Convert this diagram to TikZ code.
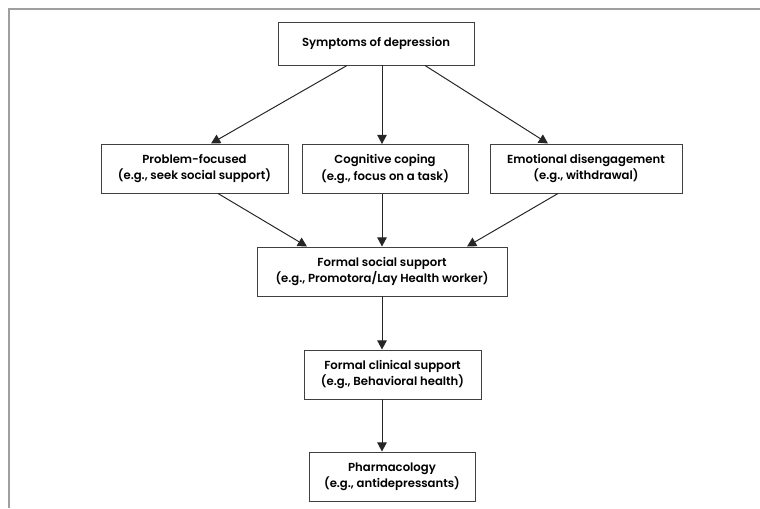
\documentclass[tikz,border=0pt]{standalone}
\usepackage{fontspec}
\setmainfont{Poppins}[BoldFont={Poppins SemiBold}]
\usetikzlibrary{arrows.meta}

\begin{document}
\begin{tikzpicture}[
    box/.style={draw=black!75, line width=0.7pt, align=center, inner sep=0pt,
        minimum height=1.225cm, font=\fontsize{8.3}{11.6}\selectfont\bfseries},
    freccia/.style={-{Triangle[length=2.3mm, width=2.4mm]}, line width=0.7pt, black!85}
    ]
    % Area e cornice
    \useasboundingbox (0,0) rectangle (19,-12.7);
    \draw[gray!75, line width=1pt] (0.225,-12.7) -- (0.225,-0.225) -- (19,-0.225);

    % Nodi
    \node[box, minimum width=4.9cm, minimum height=1.075cm] (sintomi) at (9.4,-1.0875) {Symptoms of depression};
    \node[box, minimum width=4.675cm] (problema) at (4.8625,-4.2125) {Problem-focused\\(e.g., seek social support)};
    \node[box, minimum width=4.15cm] (cognitivo) at (9.625,-4.225) {Cognitive coping\\(e.g., focus on a task)};
    \node[box, minimum width=4.8cm] (emotivo) at (14.65,-4.2125) {Emotional disengagement\\(e.g., withdrawal)};
    \node[box, minimum width=6.25cm] (sociale) at (9.55,-6.7875) {Formal social support\\(e.g., Promotora/Lay Health worker)};
    \node[box, minimum width=4.425cm] (clinico) at (9.8125,-9.3625) {Formal clinical support\\(e.g., Behavioral health)};
    \node[box, minimum width=4.15cm] (farmaci) at (9.8,-11.9125) {Pharmacology\\(e.g., antidepressants)};

    % Frecce dal primo livello
    \draw[freccia] ([xshift=-0.725cm]sintomi.south) -- ([xshift=0.4125cm]problema.north);
    \draw[freccia] ([xshift=0.15cm]sintomi.south) -- ([xshift=0.15cm]sintomi.south |- cognitivo.north);
    \draw[freccia] ([xshift=1.225cm]sintomi.south) -- ([xshift=-0.95cm]emotivo.north);

    % Frecce verso il supporto sociale
    \draw[freccia] ([xshift=0.5875cm]problema.south) -- ([xshift=-1.875cm]sociale.north);
    \draw[freccia] ([xshift=-0.075cm]cognitivo.south) -- ([xshift=-0.075cm]cognitivo.south |- sociale.north);
    \draw[freccia] ([xshift=-0.7cm]emotivo.south) -- ([xshift=2.125cm]sociale.north);

    % Catena verticale
    \draw[freccia] (sociale.south) -- (sociale.south |- clinico.north);
    \draw[freccia] ([xshift=-0.2625cm]clinico.south) -- ([xshift=-0.2625cm]clinico.south |- farmaci.north);
\end{tikzpicture}
\end{document}
